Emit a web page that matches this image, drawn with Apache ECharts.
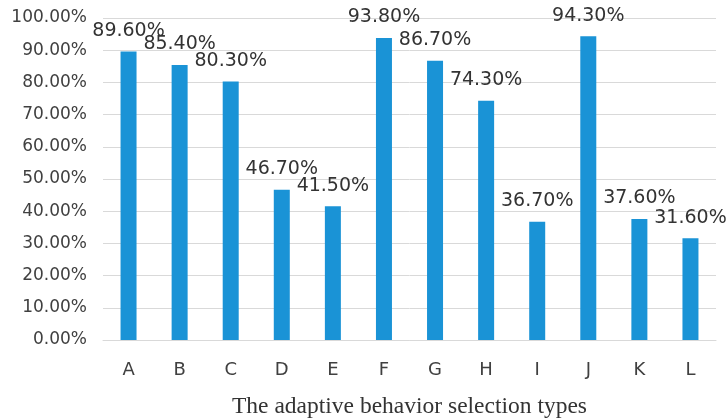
<!DOCTYPE html>
<html>
<head>
<meta charset="utf-8">
<script src="https://cdn.jsdelivr.net/npm/echarts@6/dist/echarts.min.js"></script>
<style>html,body{margin:0;padding:0;background:#fff;}#c{width:727px;height:420px;}</style>
</head>
<body>
<div id="c"></div>
<script>
var categories = ['A','B','C','D','E','F','G','H','I','J','K','L'];
var values = [89.6, 85.4, 80.3, 46.7, 41.5, 93.8, 86.7, 74.3, 36.7, 94.3, 37.6, 31.6];
var axisTitle = 'The adaptive behavior selection types';

var chart = echarts.init(document.getElementById('c'));
chart.setOption({
  animation: false,
  grid: {left: 103, right: 11, top: 18, bottom: 80, containLabel: false, outerBoundsMode: 'none'},
  xAxis: {
    type: 'category',
    data: categories,
    axisLine: {lineStyle: {color: '#d9d9d9', width: 1}},
    axisTick: {show: false},
    axisLabel: {color: '#404040', fontSize: 18, margin: 21, fontFamily: 'DejaVu Sans'},
    name: axisTitle,
    nameLocation: 'middle',
    nameGap: 55,
    nameTextStyle: {color: '#333', fontSize: 23.5, fontFamily: 'Liberation Serif'}
  },
  yAxis: {
    type: 'value',
    min: 0, max: 100, interval: 10,
    axisLine: {show: false},
    axisTick: {show: false},
    splitLine: {lineStyle: {color: '#d9d9d9', width: 1}},
    axisLabel: {color: '#404040', fontSize: 17, margin: 16, fontFamily: 'DejaVu Sans',
      formatter: function(v){ return v.toFixed(2) + '%'; }}
  },
  series: [{
    type: 'bar',
    data: values,
    barWidth: 16,
    itemStyle: {color: '#1a93d6'},
    label: {
      show: true, position: 'top', distance: 11,
      color: '#333', fontSize: 19, fontFamily: 'DejaVu Sans',
      formatter: function(p){ return p.value.toFixed(2) + '%'; }
    }
  }]
});
</script>
</body>
</html>
